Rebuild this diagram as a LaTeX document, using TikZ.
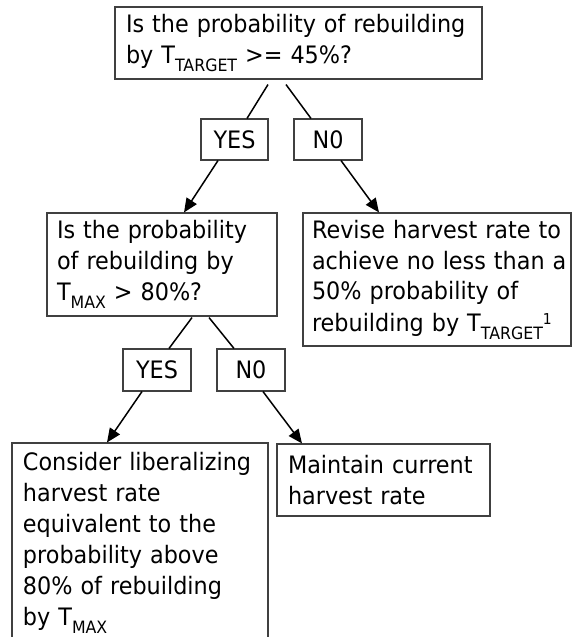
\documentclass[tikz,border=0pt]{standalone}
\usepackage{fontspec}
\setmainfont{DejaVu Sans}[FakeStretch=0.93]
\usetikzlibrary{arrows.meta}
% small lowered / raised text for T_TARGET, T_MAX and the footnote mark
\newcommand\lowsub[1]{\raisebox{-8pt}{\fontsize{17}{17}\selectfont #1}}
\newcommand\highsup[1]{\raisebox{7pt}{\fontsize{15}{15}\selectfont #1}}

\begin{document}
\begin{tikzpicture}[x=1pt,y=-1pt,
  box/.style={draw=black!75, line width=1.1pt, rectangle, inner ysep=0pt,
    font=\fontsize{24}{31}\selectfont},
  textbox/.style={box, align=left, inner xsep=11pt},
  answer/.style={box, inner xsep=0pt, minimum width=68pt, minimum height=41pt},
  link/.style={line width=1.5pt, black},
  arrow/.style={link, -{Triangle[length=14pt,width=12pt]}}]

\useasboundingbox (0,0) rectangle (572,637);
\clip (0,0) rectangle (572,637);

% decision boxes
\node[textbox, text width=345pt, minimum height=72pt] (top) at (298.5,43)
  {Is the probability of rebuilding\\by T\lowsub{TARGET} >= 45\%?};
\node[textbox, inner xsep=10pt, text width=210pt, minimum height=103pt] (q2) at (162,264.5)
  {Is the probability\\of rebuilding by\\T\lowsub{MAX} > 80\%?};

% answers
\node[answer, minimum width=67pt] (yes1) at (234.5,139.5) {YES};
\node[answer] (no1) at (328,139.5) {N0};
\node[answer, minimum height=42pt] (yes2) at (157,370) {YES};
\node[answer, minimum height=42pt] (no2) at (251,370) {N0};

% outcomes (lines kept whole, they may run into the right padding)
\node[textbox, inner xsep=9pt, text width=250pt, minimum height=133pt] (revise) at (437,279.5)
  {\mbox{Revise harvest rate to}\\\mbox{achieve no less than a}\\\mbox{50\% probability of}\\\mbox{rebuilding by T\lowsub{TARGET}\highsup{1}}};
\node[textbox, text width=234pt, minimum height=200pt] (consider) at (140,543)
  {Consider liberalizing\\harvest rate\\equivalent to the\\probability above\\80\% of rebuilding\\by T\lowsub{MAX}};
\node[textbox, text width=191pt, minimum height=72pt] (maintain) at (383.5,480)
  {Maintain current\\harvest rate};

% connectors
\draw[link] ([shift={(-30.5,5)}]top.south) -- ([xshift=12.5pt]yes1.north);
\draw[link] ([shift={(-12.5,5)}]top.south) -- ([xshift=-17pt]no1.north);
\draw[arrow] ([xshift=-16.5pt]yes1.south) -- ([xshift=22pt]q2.north);
\draw[arrow] ([xshift=13pt]no1.south) -- ([xshift=-58pt]revise.north);
\draw[link] ([shift={(30,1)}]q2.south) -- ([xshift=12pt]yes2.north);
\draw[link] ([shift={(47,1)}]q2.south) -- ([xshift=-17pt]no2.north);
\draw[arrow] ([xshift=-15pt]yes2.south) -- ([xshift=-33pt]consider.north);
\draw[arrow] ([xshift=12pt]no2.south) -- ([xshift=-81.5pt]maintain.north);
\end{tikzpicture}
\end{document}
